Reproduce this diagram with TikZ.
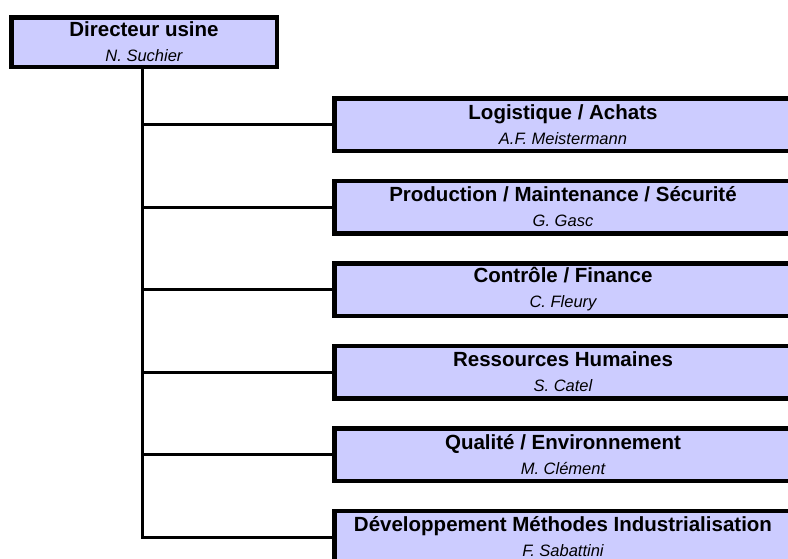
\documentclass[tikz,border=0pt]{standalone}
\usepackage{fontspec}
\setmainfont{Liberation Sans}
\usetikzlibrary{positioning,shadows}
\definecolor{unitfill}{RGB}{204,204,255}

\begin{document}
\begin{tikzpicture}[x=1pt,y=-1pt,
  unit/.style={draw=black, line width=4.5pt, fill=unitfill, align=center, inner sep=0pt,
    font=\fontsize{20.5}{25}\selectfont,
    drop shadow={shadow xshift=1.5pt, shadow yshift=-1.5pt, fill=black, opacity=1}},
  child/.style={unit, minimum width=457.5pt, minimum height=52.5pt},
  link/.style={line width=3pt}]
\useasboundingbox (0,0) rectangle (788,558);
\clip (0,0) rectangle (788,558);

% direction
\node[unit, minimum width=265.5pt, minimum height=49.5pt] (dir) at (144,42)
  {\textbf{Directeur usine}\\ {\fontsize{16.5}{20}\selectfont\itshape N. Suchier}};
\coordinate (trunk) at (142,69);

% services
\node[child] (log) at (563,124.5)
  {\textbf{Logistique / Achats}\\ {\fontsize{16.5}{20}\selectfont\itshape A.F. Meistermann}};
\node[child, below=25.5pt of log] (prod)
  {\textbf{Production / Maintenance / Sécurité}\\ {\fontsize{16.5}{20}\selectfont\itshape G. Gasc}};
\node[child, below=25.5pt of prod] (ctrl)
  {\textbf{Contrôle / Finance}\\ {\fontsize{16.5}{20}\selectfont\itshape C. Fleury}};
\node[child, below=25.5pt of ctrl] (rh)
  {\textbf{Ressources Humaines}\\ {\fontsize{16.5}{20}\selectfont\itshape S. Catel}};
\node[child, below=25.5pt of rh] (qual)
  {\textbf{Qualité / Environnement}\\ {\fontsize{16.5}{20}\selectfont\itshape M. Clément}};
\node[child, below=25.5pt of qual] (dev)
  {\textbf{Développement Méthodes Industrialisation}\\ {\fontsize{16.5}{20}\selectfont\itshape F. Sabattini}};

% liens
\foreach \n in {log,prod,ctrl,rh,qual,dev}
  \draw[link] (trunk) |- (\n.west);
\end{tikzpicture}
\end{document}
